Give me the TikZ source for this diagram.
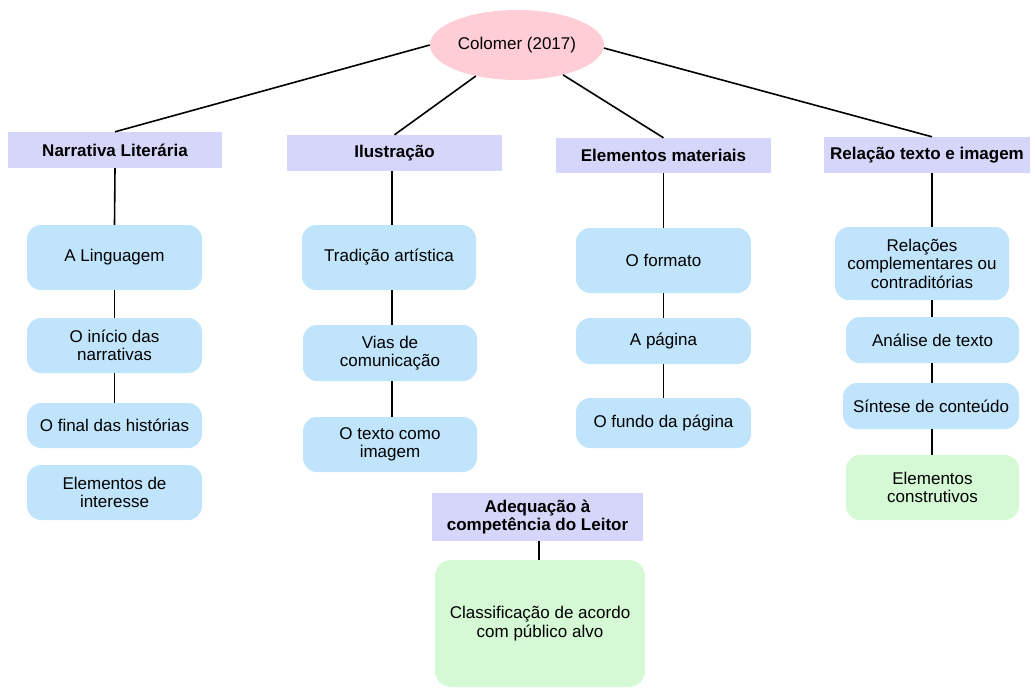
\documentclass[tikz,border=0pt]{standalone}
\usepackage{fontspec}
\setmainfont{Liberation Sans}
\usetikzlibrary{shapes.geometric}
\definecolor{pinkfill}{RGB}{255,205,213}
\definecolor{hdrfill}{RGB}{214,214,250}
\definecolor{bluefill}{RGB}{191,228,251}
\definecolor{greenfill}{RGB}{213,248,213}
\tikzset{
  lbl/.style={font=\fontsize{17}{18.5}\selectfont, text=black, align=center, inner sep=0pt},
  root/.style={lbl, ellipse, fill=pinkfill, minimum width=174pt, minimum height=70pt},
  hdr/.style={lbl, font=\fontsize{17}{18.5}\selectfont\bfseries, fill=hdrfill, minimum height=36pt},
  item/.style={lbl, fill=bluefill, rounded corners=14pt, minimum width=175pt},
  gitem/.style={lbl, fill=greenfill, rounded corners=14pt},
  link/.style={draw=black, line width=1.6pt}
}
\begin{document}
\begin{tikzpicture}[x=1pt,y=-1pt]
\useasboundingbox (0,0) rectangle (1035,688);
\node[root] (root) at (517,45) {Colomer (2017)};
\node[hdr, minimum width=214pt] (h1) at (115,150) {Narrativa Literária};
\node[hdr, minimum width=215pt] (h2) at (394.5,153) {Ilustração};
\node[hdr, minimum width=215pt, minimum height=35pt] (h3) at (663.5,155.5) {Elementos materiais};
\node[hdr, minimum width=206pt] (h4) at (927,155) {Relação texto e imagem};
\node[hdr, minimum width=211pt, minimum height=48pt] (h5) at (537.5,517) {Adequação à\\competência do Leitor};

\node[item, minimum height=65pt] (a1) at (114.5,257.5) {A Linguagem};
\node[item, minimum height=55pt] (a2) at (114.5,345.5) {O início das\\narrativas};
\node[item, minimum height=45pt] (a3) at (114.5,425.5) {O final das histórias};
\node[item, minimum height=55pt] (a4) at (114.5,492.5) {Elementos de\\interesse};

\node[item, minimum width=174pt, minimum height=65pt] (b1) at (389,257.5) {Tradição artística};
\node[item, minimum width=174pt, minimum height=56pt] (b2) at (390,353) {Vias de\\comunicação};
\node[item, minimum width=174pt, minimum height=55pt] (b3) at (390,444.5) {O texto como\\imagem};

\node[item, minimum height=65pt] (c1) at (663.5,260.5) {O formato};
\node[item, minimum height=46pt] (c2) at (663.5,341) {A página};
\node[item, minimum height=50pt] (c3) at (663.5,423) {O fundo da página};

\node[item, minimum width=174pt, minimum height=73pt] (d1) at (922,263.5) {Relações\\complementares ou\\contraditórias};
\node[item, minimum width=173pt, minimum height=46pt] (d2) at (932.5,340) {Análise de texto};
\node[item, minimum width=176pt, minimum height=46pt] (d3) at (931,406) {Síntese de conteúdo};
\node[gitem, minimum width=173pt, minimum height=65pt] (d4) at (932.5,487.5) {Elementos\\construtivos};

\node[gitem, minimum width=210pt, minimum height=127pt, rounded corners=16pt] (e1) at (540,623.5) {Classificação de acordo\\com público alvo};

\coordinate (cx2) at (392,0);
\coordinate (cx4) at (932,0);
\coordinate (cx5) at (539,0);

\draw[link] (root.west) -- (h1.north);
\draw[link] (root.217) -- (h2.north);
\draw[link] (root.327) -- (h3.north);
\draw[link] (root.358) -- (h4.north -| cx4);

\draw[link] (h1.south) -- (a1.north);
\draw[link] (a1.south) -- (a2.north);
\draw[link] (a2.south) -- (a3.north);

\draw[link] (h2.south -| cx2) -- (b1.north -| cx2);
\draw[link] (b1.south -| cx2) -- (b2.north -| cx2);
\draw[link] (b2.south -| cx2) -- (b3.north -| cx2);

\draw[link] (h3.south) -- (c1.north);
\draw[link] (c1.south) -- (c2.north);
\draw[link] (c2.south) -- (c3.north);

\draw[link] (h4.south -| cx4) -- (d1.north -| cx4);
\draw[link] (d1.south -| cx4) -- (d2.north -| cx4);
\draw[link] (d2.south -| cx4) -- (d3.north -| cx4);
\draw[link] (d3.south -| cx4) -- (d4.north -| cx4);

\draw[link] (h5.south -| cx5) -- (e1.north -| cx5);
\end{tikzpicture}
\end{document}
